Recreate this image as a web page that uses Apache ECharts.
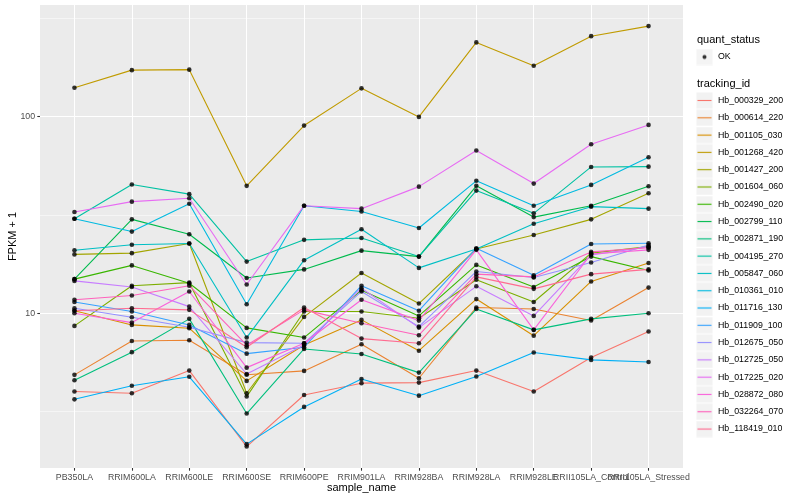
<!DOCTYPE html>
<html><head><meta charset="utf-8">
<script src="https://cdn.jsdelivr.net/npm/echarts@6/dist/echarts.min.js"></script>
<style>html,body{margin:0;padding:0;background:#fff}#c{width:800px;height:500px}</style>
</head><body><div id="c"></div>
<script>
const categories = ['PB350LA','RRIM600LA','RRIM600LE','RRIM600SE','RRIM600PE','RRIM901LA','RRIM928BA','RRIM928LA','RRIM928LE','RRII105LA_Control','RRII105LA_Stressed'];
const trackingIds = ['Hb_000329_200','Hb_000614_220','Hb_001105_030','Hb_001268_420','Hb_001427_200','Hb_001604_060','Hb_002490_020','Hb_002799_110','Hb_002871_190','Hb_004195_270','Hb_005847_060','Hb_010361_010','Hb_011716_130','Hb_011909_100','Hb_012675_050','Hb_012725_050','Hb_017225_020','Hb_028872_080','Hb_032264_070','Hb_118419_010'];
const colors = ['#F8766D','#EA8331','#D89000','#C09B00','#A3A500','#7CAE00','#39B600','#00BB4E','#00BF7D','#00C1A3','#00BFC4','#00BAE0','#00B0F6','#35A2FF','#9590FF','#C77CFF','#E76BF3','#FA62DB','#FF62BC','#FF6C91'];
const yTicks = [10, 100];
const yMinorTicks = [3.1623, 31.623, 316.23];

const hb000329 = [4.0, 3.92, 5.11, 2.10, 3.84, 4.41, 4.44, 5.11, 4.0, 5.95, 8.08];
const hb000614 = [4.86, 7.23, 7.29, 4.87, 5.09, 6.96, 4.67, 10.7, 10.5, 9.19, 13.5];
const hb001105 = [10.3, 8.72, 8.39, 4.53, 6.90, 9.25, 6.45, 11.8, 7.69, 14.5, 18.0];
const hb001268 = [140, 172, 173, 44.4, 89.9, 139, 99.5, 238, 181, 256, 288];
const hb001427 = [19.9, 20.2, 22.6, 3.92, 9.58, 16.0, 11.2, 21.2, 25.0, 30.0, 40.7];
const hb001604 = [8.62, 13.8, 14.3, 3.77, 10.2, 10.2, 9.43, 14.8, 11.4, 20.2, 21.8];
const hb002490 = [14.9, 17.5, 14.2, 8.42, 7.52, 13.1, 9.69, 17.6, 13.6, 19.4, 16.5];
const hb002799 = [14.9, 30.0, 25.2, 15.1, 16.7, 20.8, 19.4, 44.4, 30.8, 35.2, 44.2];
const hb002871 = [4.56, 6.34, 9.36, 3.09, 6.58, 6.21, 4.99, 10.5, 8.23, 9.36, 10.0];
const hb004195 = [30.2, 45.1, 40.3, 18.3, 23.6, 24.1, 19.4, 42.0, 32.2, 55.4, 55.6];
const hb005847 = [20.9, 22.3, 22.6, 7.52, 18.6, 26.7, 17.0, 21.2, 28.5, 34.8, 34.0];
const hb010361 = [30.2, 26.0, 36.0, 11.1, 35.2, 32.9, 27.1, 47.1, 35.2, 44.9, 62.1];
const hb011716 = [3.65, 4.28, 4.75, 2.16, 3.34, 4.63, 3.81, 4.77, 6.31, 5.79, 5.65];
const hb011909 = [11.4, 10.2, 8.72, 6.23, 6.72, 13.8, 10.3, 21.4, 15.6, 22.5, 22.7];
const hb012675 = [10.6, 9.54, 8.49, 7.09, 7.04, 12.9, 8.55, 16.3, 15.2, 18.1, 22.2];
const hb012725 = [14.6, 13.6, 10.8, 4.91, 6.90, 13.4, 8.45, 13.7, 9.69, 19.8, 21.7];
const hb017225 = [32.7, 36.9, 38.4, 14.0, 35.2, 34.0, 44.0, 67.1, 45.6, 72.3, 90.6];
const hb028872 = [10.0, 8.96, 12.9, 5.29, 7.04, 11.7, 9.17, 21.0, 8.23, 20.0, 21.0];
const hb032264 = [11.7, 12.3, 13.8, 6.88, 10.4, 8.90, 7.73, 15.8, 15.3, 20.5, 21.5];
const hb118419 = [10.3, 10.6, 10.4, 6.72, 10.7, 7.43, 7.04, 15.3, 13.3, 15.8, 16.7];

const seriesValues = [hb000329, hb000614, hb001105, hb001268, hb001427, hb001604, hb002490, hb002799, hb002871, hb004195, hb005847, hb010361, hb011716, hb011909, hb012675, hb012725, hb017225, hb028872, hb032264, hb118419];

const FONT = '"Liberation Sans", Arial, Helvetica, sans-serif';
const catIdx = categories.map((c, i) => i);
const evenIdx = catIdx.filter(i => i % 2 === 0);
const oddIdx = catIdx.filter(i => i % 2 === 1);

function keyIcon(color, point) {
  const s = 68;
  const c = document.createElement('canvas');
  c.width = s; c.height = s;
  const g = c.getContext('2d');
  g.fillStyle = '#FFFFFF'; g.fillRect(0, 0, s, s);
  g.fillStyle = '#F2F2F2'; g.fillRect(2, 2, s - 4, s - 4);
  if (point) {
    g.fillStyle = '#000000';
    g.beginPath(); g.arc(s / 2, s / 2, 8, 0, Math.PI * 2); g.fill();
  } else {
    g.strokeStyle = color; g.lineWidth = 4.4;
    g.beginPath(); g.moveTo(6, s / 2); g.lineTo(s - 6, s / 2); g.stroke();
  }
  return 'image://' + c.toDataURL();
}

const series = trackingIds.map((id, i) => ({
  type: 'line', name: id,
  data: seriesValues[i].map((v, j) => [j, v]),
  showSymbol: false, symbol: 'none',
  lineStyle: { color: colors[i], width: 1.1 },
  itemStyle: { color: colors[i] },
  silent: true, animation: false, z: 2
}));
const pts = [];
seriesValues.forEach(arr => arr.forEach((v, j) => pts.push([j, v])));
series.push({
  type: 'scatter', name: 'OK', data: pts, symbol: 'circle', symbolSize: 4.6,
  itemStyle: { color: '#000000' }, silent: true, animation: false, z: 3
});

const labelStyle = { color: '#4D4D4D', fontSize: 8.8, margin: 4.9, fontFamily: FONT, hideOverlap: false, showMinLabel: true, showMaxLabel: true, formatter: v => categories[Math.round(v)] };

const chart = echarts.init(document.getElementById('c'), null, { renderer: 'canvas' });
chart.setOption({
  animation: false,
  backgroundColor: '#FFFFFF',
  textStyle: { fontFamily: FONT },
  grid: { left: 40, right: 117, top: 5, bottom: 32, show: true, backgroundColor: '#EBEBEB', borderWidth: 0, containLabel: false, outerBoundsMode: 'none' },
  xAxis: [{
    type: 'value', min: -0.6, max: 10.6, position: 'bottom',
    axisLine: { show: false, onZero: false },
    axisTick: { show: true, customValues: catIdx, length: 2.7, lineStyle: { color: '#333333', width: 1.07 } },
    axisLabel: Object.assign({ customValues: evenIdx }, labelStyle),
    splitLine: { show: true, customValues: catIdx, lineStyle: { color: '#FFFFFF', width: 1.07 } },
    name: 'sample_name', nameLocation: 'middle', nameGap: 14, nameMoveOverlap: false,
    nameTextStyle: { color: '#000000', fontSize: 11, fontFamily: FONT }
  }, {
    type: 'value', min: -0.6, max: 10.6, position: 'bottom', offset: 0,
    axisLine: { show: false, onZero: false },
    axisTick: { show: false, customValues: oddIdx },
    axisLabel: Object.assign({ customValues: oddIdx }, labelStyle),
    splitLine: { show: false }
  }],
  yAxis: [{
    type: 'log', logBase: 10, min: 1.634, max: 368.7, position: 'left',
    axisLine: { show: false, onZero: false },
    axisTick: { show: true, customValues: yTicks, length: 2.7, lineStyle: { color: '#333333', width: 1.07 } },
    axisLabel: { customValues: yTicks, color: '#4D4D4D', fontSize: 8.8, margin: 4.9, fontFamily: FONT, showMinLabel: true, showMaxLabel: true },
    splitLine: { show: true, customValues: yTicks, lineStyle: { color: '#FFFFFF', width: 1.07 } },
    name: 'FPKM + 1', nameLocation: 'middle', nameGap: 22, nameRotate: 90, nameMoveOverlap: false,
    nameTextStyle: { color: '#000000', fontSize: 11, fontFamily: FONT }
  }, {
    type: 'log', logBase: 10, min: 1.634, max: 368.7, position: 'right',
    axisLine: { show: false, onZero: false },
    axisTick: { show: false, customValues: yMinorTicks },
    axisLabel: { show: false, customValues: yMinorTicks },
    splitLine: { show: true, customValues: yMinorTicks, lineStyle: { color: '#FFFFFF', width: 0.53 } }
  }],
  legend: [{
    orient: 'vertical', left: 696, top: 48.5, padding: 0,
    itemWidth: 17, itemHeight: 17, selectedMode: false,
    data: [{ name: 'OK', icon: keyIcon('#000', true) }],
    textStyle: { color: '#000000', fontSize: 8.8, fontFamily: FONT }
  }, {
    orient: 'vertical', left: 696, top: 92, padding: 0,
    itemWidth: 17, itemHeight: 17, itemGap: 0.29, selectedMode: false,
    data: trackingIds.map((id, i) => ({ name: id, icon: keyIcon(colors[i], false) })),
    textStyle: { color: '#000000', fontSize: 8.8, fontFamily: FONT }
  }],
  graphic: [
    { type: 'text', left: 697, top: 34, style: { text: 'quant_status', fill: '#000000', font: '11px ' + FONT } },
    { type: 'text', left: 697, top: 78, style: { text: 'tracking_id', fill: '#000000', font: '11px ' + FONT } }
  ],
  series: series
});
</script>
</body></html>
